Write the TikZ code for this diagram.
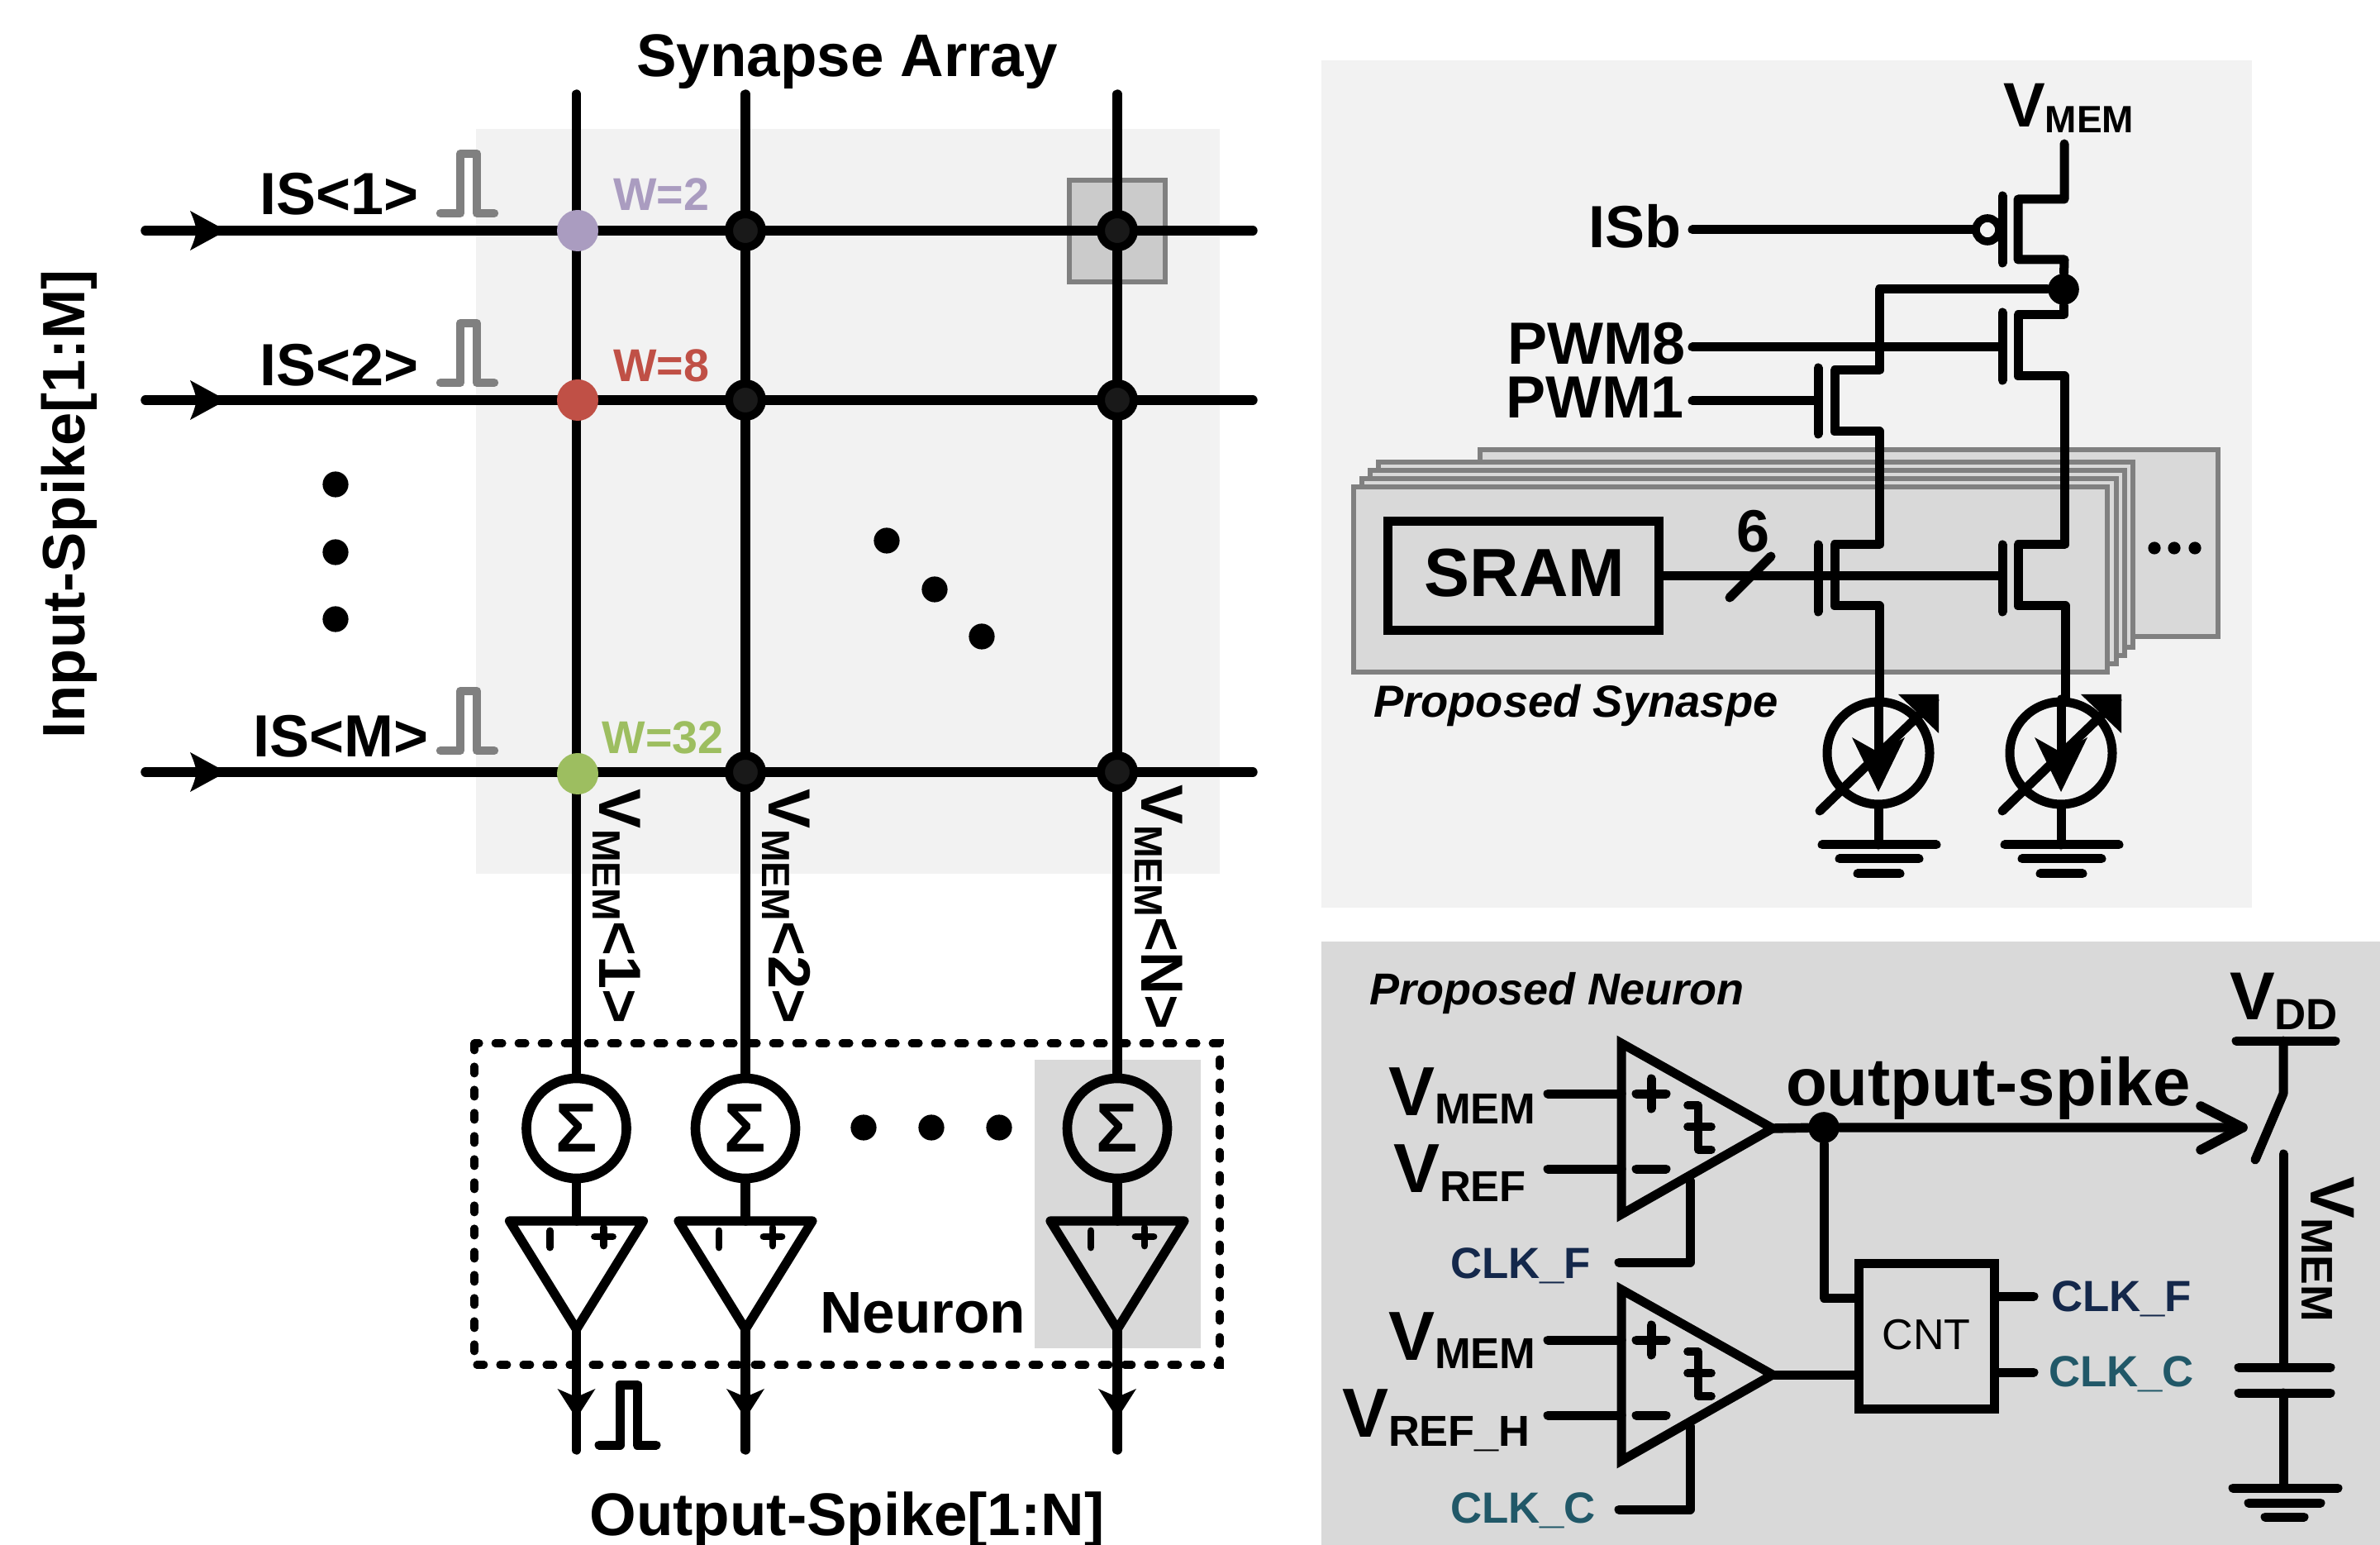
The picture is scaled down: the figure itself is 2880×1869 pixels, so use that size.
\documentclass[tikz,border=0pt]{standalone}
\usepackage{fontspec}
\setmainfont{Liberation Sans}
\usetikzlibrary{calc}
\definecolor{panelA}{HTML}{F2F2F2}
\definecolor{panelB}{HTML}{D9D9D9}
\definecolor{edgegray}{HTML}{808080}
\definecolor{wpurple}{HTML}{AA9CC0}
\definecolor{wred}{HTML}{C05046}
\definecolor{wgreen}{HTML}{9DBE60}
\definecolor{clkf}{HTML}{14284B}
\definecolor{clkc}{HTML}{215868}
\newcommand{\fsz}[1]{\fontsize{#1}{#1}\selectfont}
\newcommand{\vlbl}[4]{\fsz{#1}V\raisebox{#3}{\fsz{#2}#4}}
\tikzset{
  x=0.25pt,y=-0.25pt,
  wire/.style={line width=2.75pt,line cap=round,line join=round},
  thick wire/.style={line width=2.85pt,line cap=round,line join=round},
  pulse/.style={line width=2.6pt,line cap=round,line join=round},
  txt/.style={inner sep=0pt,outer sep=0pt,font=\bfseries},
  xdot/.style={circle,inner sep=0pt,minimum size=12.5pt},
  blackx/.style={circle,inner sep=0pt,minimum size=10pt,draw=black,line width=2.5pt,fill=black!90},
  smalldot/.style={circle,fill=black,inner sep=0pt,minimum size=7.8pt},
  tinydot/.style={circle,fill=black,inner sep=0pt,minimum size=3.8pt},
  junction/.style={circle,fill=black,inner sep=0pt,minimum size=9.4pt},
  sumc/.style={circle,draw=black,line width=2.9pt,inner sep=0pt,minimum size=30.25pt,font=\bfseries\fsz{21}},
  stack/.style={fill=panelB,draw=edgegray,line width=1.7pt},
  gbar/.style={line width=2.75pt,line cap=round},
}
% rightward arrow head
\newcommand{\arrR}[2]{\fill (#1,#2) -- ++(-44,-24) .. controls ++(5,12) .. ++(8,24) .. controls ++(-3,12) .. ++(-8,24) -- cycle;}
\newcommand{\arrD}[2]{\fill (#1,#2) -- ++(-23,-36) .. controls ++(12,5) .. ++(23,10) .. controls ++(11,-5) .. ++(23,-10) -- cycle;}
\newcommand{\pulseshape}[2]{\draw[pulse,edgegray] (#1,#2) -- ++(24,0) -- ++(0,-72) -- ++(20,0) -- ++(0,72) -- ++(21,0);}
\begin{document}
\begin{tikzpicture}
\useasboundingbox (0,0) rectangle (2880,1869);
\fill[white] (0,0) rectangle (2880,1869);
%% ============ left panel
\fill[panelA] (576,156) rectangle (1476,1057);
\fill[panelB] (1252,1282) rectangle (1453,1631);
\fill[panelB!85!gray,draw=edgegray,line width=1.3pt] (1294,218) rectangle (1410,341);
\node[txt,font=\bfseries\fsz{18.2}] (title) at (1025,75) {Synapse Array};
\node[txt,font=\bfseries\fsz{18.2},anchor=base] (outl) at (1025,1857) {Output-Spike[1:N]};
\node[txt,font=\bfseries\fsz{18.1},rotate=90] (inl) at (84,610) {Input-Spike[1:M]};
% named grid
\foreach \r/\y in {1/279,2/484,3/934}{
  \coordinate (rL\r) at (176,\y);
  \coordinate (rR\r) at (1516,\y);
  \draw[thick wire] (rL\r) -- (rR\r);
  \arrR{274}{\y}
}
\foreach \c/\x in {1/697.5,2/902,3/1352}{
  \coordinate (cT\c) at (\x,114);
  \node[sumc] (sum\c) at (\x,1365) {Σ};
  \coordinate (triT\c) at (\x,1477);
  \coordinate (triB\c) at (\x,1608);
  \coordinate (out\c) at (\x,1754);
  \draw[thick wire] (cT\c) -- (sum\c.north);
  \draw[thick wire] (sum\c.south) -- (triT\c);
  \draw[line width=2.8pt,line join=round] ($(triT\c)+(-81,0)$) -- ($(triT\c)+(81,0)$) -- (triB\c) -- cycle;
  \draw[thick wire] (triB\c) -- (out\c);
  \draw[line width=2.2pt,line cap=round] ($(triT\c)+(-32,12)$) -- ++(0,20);
  \draw[line width=2.2pt,line cap=round] ($(triT\c)+(33,19)$) ++(-11,0) -- ++(22,0) ++(-11,-11) -- ++(0,22);
  \arrD{\x}{1716}
}
\foreach \c/\x in {2/902,3/1352}{
  \foreach \r/\y in {1/279,2/484,3/934}{
    \node[blackx] (x\r\c) at (\x,\y) {};
  }
}
\node[xdot,fill=wpurple] (x11) at (699,279) {};
\node[xdot,fill=wred] (x21) at (699,484) {};
\node[xdot,fill=wgreen] (x31) at (699,936) {};
\node[txt,font=\bfseries\fsz{13.9},text=wpurple] (w2) at (800,235) {W=2};
\node[txt,font=\bfseries\fsz{13.9},text=wred] (w8) at (800,442) {W=8};
\node[txt,font=\bfseries\fsz{13.9},text=wgreen] (w32) at (802,892) {W=32};
\node[txt,font=\bfseries\fsz{18},anchor=base west] (is1) at (314,260) {IS<1>};
\node[txt,font=\bfseries\fsz{18},anchor=base west] (is2) at (314,467) {IS<2>};
\node[txt,font=\bfseries\fsz{18},anchor=base west] (ism) at (306,916) {IS<M>};
\pulseshape{533}{258}
\pulseshape{533}{463}
\pulseshape{533}{908}
\foreach \n/\x/\y in {a/406/586,b/406/668,c/406/749,d/1073/654,e/1131/713,f/1188/770,g/1045/1364,h/1127/1364,i/1209/1364}{
  \node[smalldot] (dot\n) at (\x,\y) {};
}
% rotated VMEM labels
\node[txt,rotate=-90,anchor=base west] (vm1) at (725,955) {\vlbl{18}{11.9}{-2pt}{MEM}\fsz{18}<1>};
\node[txt,rotate=-90,anchor=base west] (vm2) at (930,955) {\vlbl{18}{11.9}{-2pt}{MEM}\fsz{18}<2>};
\node[txt,rotate=-90,anchor=base west] (vm3) at (1381,950) {\vlbl{18}{11.9}{-2pt}{MEM}\fsz{18}<N>};
% neuron dashed box
\draw[line width=2.3pt,line cap=round,dash pattern=on 2.2pt off 4.8pt] (574,1262) rectangle (1476,1651);
\node[txt,font=\bfseries\fsz{17.8},anchor=base west] (neu) at (992,1612) {Neuron};
\draw[pulse,line width=2.75pt,black] (725,1748) -- (750,1748) -- (750,1675) -- (771,1675) -- (771,1748) -- (794,1748);
%% ============ top right panel
\fill[panelA] (1599,73) rectangle (2725,1098);
\draw[stack] (1791,544) rectangle (2684,770);
\draw[stack] (1668,559) rectangle (2581,783);
\draw[stack] (1658,569) rectangle (2571,793);
\draw[stack] (1648,579) rectangle (2561,803);
\draw[stack] (1638,589) rectangle (2550,813);
\foreach \n/\x in {a/2607,b/2631,c/2656}{\node[tinydot] (t\n) at (\x,663) {};}
\node[txt,anchor=base west] (vm) at (2424,154) {\vlbl{19}{11.5}{-1.6pt}{MEM}};
\node[txt,font=\bfseries\fsz{18},anchor=base east] (isb) at (2034,300) {ISb};
\node[txt,font=\bfseries\fsz{18},anchor=base east] (pwm8) at (2040,441) {PWM8};
\node[txt,font=\bfseries\fsz{18},anchor=base east] (pwm1) at (2038,506) {PWM1};
\node[junction] (nd) at (2497,350) {};
\node[circle,draw=black,fill=panelA,line width=2.4pt,inner sep=0pt,minimum size=7pt] (bub) at (2405,278) {};
% PMOS
\draw[wire] (2498,174) -- (2498,241) -- (2442,241) -- (2442,314) -- (2498,314) -- (nd);
\draw[gbar] (2423,237) -- (2423,318);
\draw[wire] (isb.east |- bub) ++(14,0) -- (bub);
% right stack
\draw[wire] (nd) -- (2497,381) -- (2442,381) -- (2442,455) -- (2498,455) -- (2498,659) -- (2442,659) -- (2442,733) -- (2499,733) -- (2499,846);
\draw[gbar] (2423,378) -- (2423,460);
\draw[wire] (2048,420) -- (2423,420);
% left stack
\draw[wire] (nd) -- (2274,350) -- (2274,448) -- (2220,448) -- (2220,522) -- (2274,522) -- (2274,659) -- (2220,659) -- (2220,733) -- (2274,733) -- (2274,846);
\draw[gbar] (2200,445) -- (2200,525);
\draw[wire] (2048,485) -- (2200,485);
\draw[gbar] (2200,659) -- (2200,740);
\draw[gbar] (2423,659) -- (2423,740);
% SRAM
\node[draw=black,line width=2.75pt,fill=panelB,inner sep=0pt,minimum width=82pt,minimum height=33pt] (sram) at (1843,696.5) {};
\node[txt,font=\bfseries\fsz{20.6}] (sramt) at (1845,693) {SRAM};
\draw[wire] (sram.east) -- (2423,696.5);
\draw[wire] (2093,723) -- (2143,673);
\node[txt,font=\bfseries\fsz{18}] (six) at (2121,643) {6};
\node[txt,font=\bfseries\itshape\fsz{13.6},anchor=base west] (ps) at (1662,868) {Proposed Synaspe};
% memristors
\foreach \k/\x/\g in {a/2273/70,b/2494/70}{
  \node[circle,draw=black,line width=2.75pt,inner sep=0pt,minimum size=31pt] (mem\k) at (\x,911) {};
  \draw[wire] (mem\k.center |- 0,846) -- (\x,945);
  \fill (\x,958) -- ++(-32,-66) -- ++(32,18) -- ++(32,-18) -- cycle;
  \draw[wire] ($(mem\k.center)+(-71,70)$) -- ($(mem\k.center)+(68,-64)$);
  \fill ($(mem\k.center)+(24,-71)$) -- ++(49,0) -- ++(0,47) -- cycle;
  \coordinate (g\k) at (\x,1022);
  \draw[wire] (mem\k.south) -- (g\k);
  \draw[gbar] ($(g\k)+(-68,0)$) -- ($(g\k)+(70,0)$);
  \draw[gbar] ($(g\k)+(-47,17)$) -- ($(g\k)+(49,17)$);
  \draw[gbar] ($(g\k)+(-25,35)$) -- ($(g\k)+(26,35)$);
}
%% ============ bottom right panel
\fill[panelB] (1599,1139) rectangle (2880,1869);
\node[txt,font=\bfseries\itshape\fsz{13.5},anchor=base west] (pn) at (1657,1216) {Proposed Neuron};
\foreach \k/\o in {1/0,2/298}{
  \coordinate (ctip\k) at (2145,1365+\o);
  \draw[wire,line join=miter] (1962,1262+\o) -- (ctip\k) -- (1962,1469+\o) -- cycle;
  \draw[wire,line cap=round] (1980,1323+\o) -- (2016,1323+\o) (1998,1305+\o) -- (1998,1341+\o);
  \draw[wire] (1980,1414+\o) -- (2016,1414+\o);
  \draw[line width=2.4pt,line cap=round,line join=round] (2042,1337+\o) -- (2055,1337+\o) -- (2055,1391+\o) -- (2071,1391+\o) (2042,1363+\o) -- (2071,1363+\o);
  \draw[wire] (1873,1323+\o) -- (1962,1323+\o);
  \draw[wire] (1873,1414+\o) -- (1962,1414+\o);
}
\node[txt,anchor=base west] (lv1) at (1680,1349) {\vlbl{21}{13.1}{-2.5pt}{MEM}};
\node[txt,anchor=base west] (lv2) at (1686,1442) {\vlbl{21}{13.1}{-2.8pt}{REF}};
\node[txt,anchor=base west] (lv3) at (1680,1645) {\vlbl{21}{13.1}{-2.5pt}{MEM}};
\node[txt,anchor=base west] (lv4) at (1624,1738) {\vlbl{21}{13.1}{-2.8pt}{REF\_H}};
\node[txt,font=\bfseries\fsz{13.2},text=clkf,anchor=base west] (cf1) at (1755,1546) {CLK\_F};
\node[txt,font=\bfseries\fsz{13.2},text=clkc,anchor=base west] (cc1) at (1755,1842) {CLK\_C};
\node[txt,font=\bfseries\fsz{13.2},text=clkf,anchor=base west] (cf2) at (2482,1586) {CLK\_F};
\node[txt,font=\bfseries\fsz{13.2},text=clkc,anchor=base west] (cc2) at (2479,1677) {CLK\_C};
\draw[wire] (2045,1428) -- (2045,1527) -- (1959,1527);
\draw[wire] (2045,1725) -- (2045,1826) -- (1959,1826);
\node[draw=black,line width=2.75pt,fill=panelB,inner sep=0pt,minimum width=41pt,minimum height=44pt,font=\fsz{13}] (cnt) at (2331,1616) {\raisebox{1pt}{CNT}};
\node[junction] (outj) at (2207,1364) {};
\coordinate (atip) at (2714,1364);
\draw[thick wire] (ctip1) -- (outj) -- (atip);
\draw[thick wire] (2663,1338) -- (atip) -- (2663,1391);
\draw[wire] (outj) -- (2207,1570) -- (cnt.west |- 0,1570);
\draw[wire] (ctip2) -- (cnt.west |- ctip2);
\draw[wire] (cnt.east |- 0,1568) -- (2461,1568);
\draw[wire] (cnt.east |- 0,1660) -- (2461,1660);
\node[txt,font=\bfseries\fsz{20.4},anchor=base west] (os) at (2161,1337) {output-spike};
% VDD branch
\node[txt,anchor=base west] (vdd) at (2698,1234) {\vlbl{20.5}{13.2}{-3pt}{DD}};
\draw[wire] (2706,1259) -- (2826,1259);
\draw[wire] (2763,1259) -- (2763,1323) -- (2729,1403);
\draw[wire] (2763,1396) -- (2763,1654);
\draw[wire] (2709,1654) -- (2820,1654);
\draw[wire] (2709,1685) -- (2820,1685);
\draw[wire] (2763,1685) -- (2763,1800);
\draw[wire] (2702,1800) -- (2829,1800);
\draw[wire] (2721,1818) -- (2808,1818);
\draw[wire] (2741,1835) -- (2788,1835);
\node[txt,rotate=-90,anchor=base west] (vm4) at (2796,1423) {\vlbl{19}{13.4}{-2.6pt}{MEM}};
\end{tikzpicture}
\end{document}
